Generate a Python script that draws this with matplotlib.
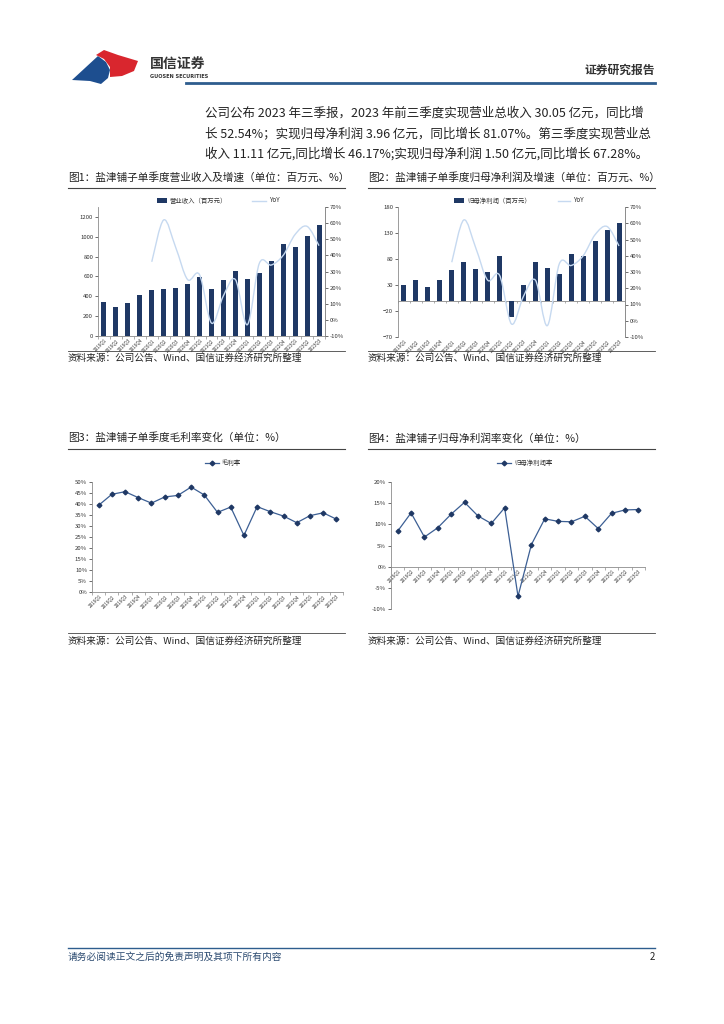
import numpy as np
import matplotlib
matplotlib.use('Agg')
import matplotlib.pyplot as plt
from matplotlib.path import Path
from matplotlib.patches import PathPatch, Polygon, Rectangle
from matplotlib.lines import Line2D
from matplotlib.ticker import FuncFormatter, MultipleLocator

plt.rcParams['font.family'] = ['Noto Sans CJK SC', 'DejaVu Sans']

# ---------------- data ----------------
quarters = ['2019Q1', '2019Q2', '2019Q3', '2019Q4', '2020Q1', '2020Q2', '2020Q3', '2020Q4',
            '2021Q1', '2021Q2', '2021Q3', '2021Q4', '2022Q1', '2022Q2', '2022Q3', '2022Q4',
            '2023Q1', '2023Q2', '2023Q3']
revenue = [342, 292, 335, 413, 463, 476, 487, 523, 590, 470, 564, 654, 574, 634, 755, 926, 893, 1003, 1114]
revenue_yoy = [36, 62, 45, 25, 28, -2, 15, 25, -3, 35, 34, 40, 53, 58, 46]   # from 2020Q1
net_profit = [30, 39, 26, 40, 58, 75, 60, 55, 85, -32, 29.5, 75, 63, 51, 90, 85, 114, 136, 150]
profit_yoy = [36, 62, 45, 25, 28, -2, 15, 25, -3, 35, 34, 40, 53, 58, 46]    # from 2020Q1 (as shown)
gross_margin = [39.4, 44.4, 45.6, 42.9, 40.4, 43.2, 43.9, 47.7, 44.1, 36.2, 38.6, 25.7,
                38.8, 36.5, 34.5, 31.5, 34.7, 36.0, 33.1]
net_margin = [8.4, 12.7, 7.0, 9.2, 12.4, 15.2, 12.0, 10.2, 13.9, -7.0, 5.2, 11.3,
              10.7, 10.6, 11.9, 9.0, 12.6, 13.4, 13.5]

W, H = 724, 1024
fig = plt.figure(figsize=(W / 100, H / 100), dpi=100)
fig.patch.set_facecolor('white')

NAVY = '#1f3864'
LINE_BLUE = '#3c5f94'
YOY_C = '#c6d9f0'
AX_C = '#8c8c8c'
HDR_BLUE = '#2e5d8e'
TXT = '#222222'


def fx(x):
    return x / W


def fy(y):
    return 1 - y / H


def add_ax(l, t, r, b):
    return fig.add_axes([fx(l), fy(b), (r - l) / W, (b - t) / H])


def ftext(x, y, s, **kw):
    fig.text(fx(x), fy(y), s, **kw)


def fline(x0, x1, y, color, lw):
    fig.add_artist(Line2D([fx(x0), fx(x1)], [fy(y), fy(y)], color=color, lw=lw,
                          transform=fig.transFigure))


# ---------------- header ----------------
blue_logo = [(72, 80), (98, 56), (106, 62), (110, 70), (108, 78), (101, 84), (90, 81)]
red_logo = [(96, 55), (104, 50), (118, 55), (138, 61), (134, 71), (122, 76), (110, 77), (110, 67), (104, 59)]
fig.add_artist(Polygon([(fx(a), fy(b)) for a, b in blue_logo], closed=True,
                       facecolor='#1d4e8f', edgecolor='none', transform=fig.transFigure))
fig.add_artist(Polygon([(fx(a), fy(b)) for a, b in red_logo], closed=True,
                       facecolor='#d9262e', edgecolor='none', transform=fig.transFigure))
ftext(150, 64, '国信证券', fontsize=10, fontweight='bold', color='#333333', va='center', ha='left')
ftext(150, 77, 'GUOSEN SECURITIES', fontsize=3.6, fontweight='bold', color='#333333',
      va='center', ha='left', family='DejaVu Sans')
ftext(655, 70, '证券研究报告', fontsize=8.5, fontweight='bold', color='#333333', va='center', ha='right')
fline(186, 655, 83, HDR_BLUE, 2.0)

para = ['公司公布 2023 年三季报，2023 年前三季度实现营业总收入 30.05 亿元，同比增',
        '长 52.54%；实现归母净利润 3.96 亿元，同比增长 81.07%。第三季度实现营业总',
        '收入 11.11 亿元,同比增长 46.17%;实现归母净利润 1.50 亿元,同比增长 67.28%。']
for i, s in enumerate(para):
    ftext(205, 113 + i * 20.5, s, fontsize=9.0, color=TXT, va='center', ha='left')

# ---------------- titles / sources ----------------
titles = [(68, 177, '图1：盐津铺子单季度营业收入及增速（单位：百万元、%）'),
          (368, 177, '图2：盐津铺子单季度归母净利润及增速（单位：百万元、%）'),
          (68, 438, '图3：盐津铺子单季度毛利率变化（单位：%）'),
          (368, 438, '图4：盐津铺子归母净利润率变化（单位：%）')]
for x, y, s in titles:
    ftext(x, y, s, fontsize=7.7, color=TXT, va='center', ha='left')
for x0, x1 in [(68, 345), (368, 655)]:
    fline(x0, x1, 188, '#444444', 0.8)
    fline(x0, x1, 449, '#444444', 0.8)
    fline(x0, x1, 351, '#444444', 0.6)
    fline(x0, x1, 633, '#444444', 0.6)
src = '资料来源：公司公告、Wind、国信证券经济研究所整理'
for x, y in [(68, 358), (368, 358), (68, 641), (368, 641)]:
    ftext(x, y, src, fontsize=6.9, color=TXT, va='center', ha='left')

# footer
fline(68, 655, 948, HDR_BLUE, 1.0)
ftext(68, 957, '请务必阅读正文之后的免责声明及其项下所有内容', fontsize=7.0, color='#2b4a70',
      va='center', ha='left')
ftext(655, 957, '2', fontsize=7, color=TXT, va='center', ha='right')

TICK_FS = 4.3
XT_FS = 3.3
x = np.arange(len(quarters))


def style_common(ax, zero_axis=False):
    for s in ax.spines.values():
        s.set_color(AX_C)
        s.set_linewidth(0.6)
    ax.spines['top'].set_visible(False)
    if zero_axis:
        ax.spines['bottom'].set_position(('data', 0))
    ax.tick_params(axis='both', labelsize=TICK_FS, colors='#333333', width=0.5, length=2, pad=1.5)
    ax.set_xlim(-0.5, len(quarters) - 0.5)
    ax.set_xticks(x)
    ax.set_xticklabels(quarters, rotation=45, ha='right', rotation_mode='anchor', fontsize=XT_FS)
    ax.set_xticks(np.arange(-0.5, len(quarters)), minor=True)
    ax.tick_params(axis='x', which='major', length=0, pad=1.2)
    ax.tick_params(axis='x', which='minor', length=2, width=0.5, color=AX_C)


def smooth_line(ax, xs, ys, color, lw):
    pts = np.column_stack([xs, ys]).astype(float)
    n = len(pts)
    verts = [pts[0]]
    codes = [Path.MOVETO]
    for i in range(n - 1):
        p0 = pts[i - 1] if i > 0 else pts[i]
        p1 = pts[i]
        p2 = pts[i + 1]
        p3 = pts[i + 2] if i + 2 < n else pts[i + 1]
        c1 = p1 + (p2 - p0) / 6.0
        c2 = p2 - (p3 - p1) / 6.0
        verts += [c1, c2, p2]
        codes += [Path.CURVE4] * 3
    ax.add_patch(PathPatch(Path(verts, codes), facecolor='none', edgecolor=color, lw=lw,
                           transform=ax.transData, zorder=5))


pct_fmt = FuncFormatter(lambda v, p: f'{v:.0f}%')


def style_twin(ax):
    for s in ax.spines.values():
        s.set_color(AX_C)
        s.set_linewidth(0.6)
    ax.spines['top'].set_visible(False)
    ax.spines['bottom'].set_visible(False)
    ax.spines['left'].set_visible(False)
    ax.set_ylim(-10, 70)
    ax.yaxis.set_major_locator(MultipleLocator(10))
    ax.yaxis.set_major_formatter(pct_fmt)
    ax.tick_params(axis='y', labelsize=TICK_FS, colors='#333333', width=0.5, length=2, pad=1.5)


# ---------------- chart 1 ----------------
ax1 = add_ax(98, 207, 325, 336)
style_common(ax1)
ax1.bar(x, revenue, width=0.42, color=NAVY, zorder=2)
ax1.set_ylim(0, 1300)
ax1.set_yticks(np.arange(0, 1201, 200))
ax2 = ax1.twinx()
style_twin(ax2)
smooth_line(ax2, x[4:], revenue_yoy, YOY_C, 1.0)

fig.add_artist(Rectangle((fx(157), fy(203)), 10 / W, 5 / H, facecolor=NAVY, edgecolor='none',
                         transform=fig.transFigure))
ftext(170, 200.5, '营业收入（百万元）', fontsize=4.6, color='#333333', va='center', ha='left')
fline(252, 266, 200.5, YOY_C, 1.0)
ftext(269, 200.5, 'YoY', fontsize=4.6, color='#333333', va='center', ha='left')

# ---------------- chart 2 ----------------
ax3 = add_ax(398, 207, 625, 337)
style_common(ax3)
ax3.bar(x, net_profit, width=0.42, color=NAVY, zorder=2)
ax3.set_ylim(-70, 180)
ax3.set_yticks(np.arange(-70, 181, 50))
ax3.spines['bottom'].set_visible(False)
ax3.tick_params(axis='x', which='minor', length=0)
ax3.axhline(0, color=AX_C, lw=0.6, zorder=1)
ax3.vlines(np.arange(-0.5, len(quarters)), -4, 0, color=AX_C, lw=0.5)
ax4 = ax3.twinx()
style_twin(ax4)
smooth_line(ax4, x[4:], profit_yoy, YOY_C, 1.0)

fig.add_artist(Rectangle((fx(454), fy(203)), 10 / W, 5 / H, facecolor=NAVY, edgecolor='none',
                         transform=fig.transFigure))
ftext(467, 200.5, '归母净利润（百万元）', fontsize=4.6, color='#333333', va='center', ha='left')
fline(558, 570, 200.5, YOY_C, 1.0)
ftext(573, 200.5, 'YoY', fontsize=4.6, color='#333333', va='center', ha='left')

# ---------------- chart 3 ----------------
ax5 = add_ax(92, 482, 343, 592)
style_common(ax5)
ax5.spines['right'].set_visible(False)
ax5.plot(x, gross_margin, color=LINE_BLUE, lw=0.9, marker='D', markersize=2.4,
         markerfacecolor=NAVY, markeredgecolor=NAVY, zorder=3)
ax5.set_ylim(0, 50)
ax5.yaxis.set_major_locator(MultipleLocator(5))
ax5.yaxis.set_major_formatter(pct_fmt)

fline(205, 219, 463, LINE_BLUE, 0.9)
fig.add_artist(Line2D([fx(212)], [fy(463)], marker='D', markersize=2.4, color=NAVY,
                      transform=fig.transFigure))
ftext(222, 463, '毛利率', fontsize=4.6, color='#333333', va='center', ha='left')

# ---------------- chart 4 ----------------
ax6 = add_ax(391, 482, 645, 609)
style_common(ax6, zero_axis=True)
ax6.spines['right'].set_visible(False)
ax6.plot(x, net_margin, color=LINE_BLUE, lw=0.9, marker='D', markersize=2.4,
         markerfacecolor=NAVY, markeredgecolor=NAVY, zorder=3)
ax6.set_ylim(-10, 20)
ax6.yaxis.set_major_locator(MultipleLocator(5))
ax6.yaxis.set_major_formatter(pct_fmt)

fline(497, 511, 463, LINE_BLUE, 0.9)
fig.add_artist(Line2D([fx(504)], [fy(463)], marker='D', markersize=2.4, color=NAVY,
                      transform=fig.transFigure))
ftext(514, 463, '归母净利润率', fontsize=4.6, color='#333333', va='center', ha='left')

fig.savefig('out.png', dpi=100, facecolor='white')
